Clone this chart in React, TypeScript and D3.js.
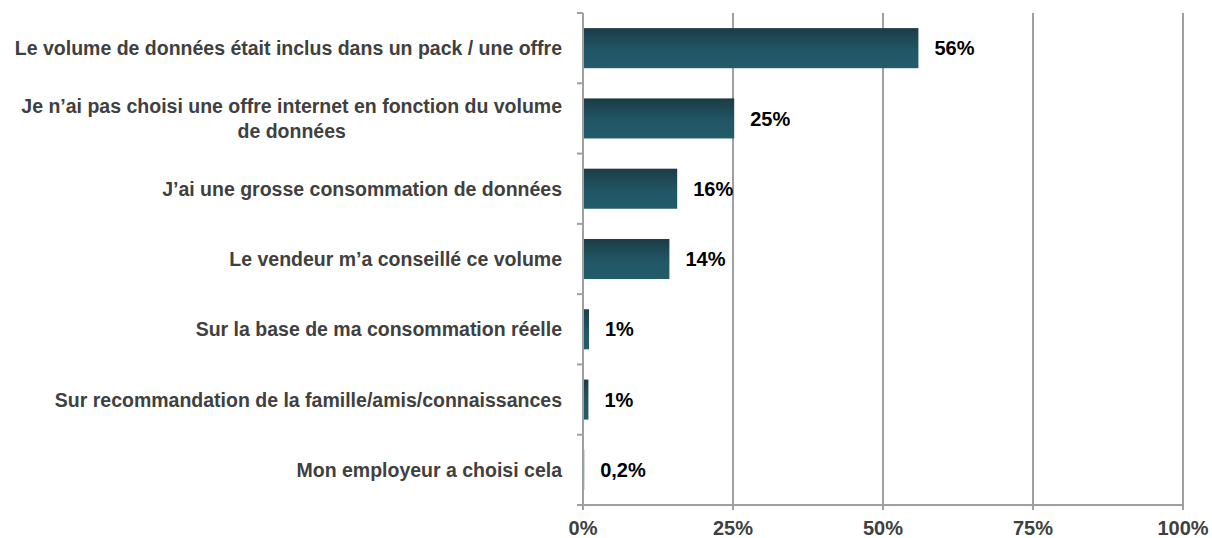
import React, { useEffect, useRef } from "react";
import * as d3 from "d3";

const categories: string[][] = [
  ["Le volume de données était inclus dans un pack / une offre"],
  ["Je n’ai pas choisi une offre internet en fonction du volume", "de données"],
  ["J’ai une grosse consommation de données"],
  ["Le vendeur m’a conseillé ce volume"],
  ["Sur la base de ma consommation réelle"],
  ["Sur recommandation de la famille/amis/connaissances"],
  ["Mon employeur a choisi cela"],
];
const values: number[] = [55.9, 25.2, 15.7, 14.4, 1.0, 0.9, 0.2];
const valueLabels: string[] = ["56%", "25%", "16%", "14%", "1%", "1%", "0,2%"];
const ticks: number[] = [0, 25, 50, 75, 100];
const tickLabels: string[] = ["0%", "25%", "50%", "75%", "100%"];

const W = 1212;
const H = 538;

export default function App() {
  const ref = useRef<SVGSVGElement>(null);
  useEffect(() => {
    const svg = d3.select(ref.current);
    svg.selectAll("*").remove();
    const left = 583, right = 1183, top = 13, bottom = 505;
    const x = d3.scaleLinear().domain([0, 100]).range([left, right]);
    const y = d3.scaleBand<number>().domain(d3.range(categories.length)).range([top, bottom]).paddingInner(0.43).paddingOuter(0.215);
    const step = (bottom - top) / categories.length;
    const font = "'Liberation Sans', Arial, sans-serif";

    const defs = svg.append("defs");
    const grad = defs.append("linearGradient").attr("id", "barGrad").attr("x1", 0).attr("y1", 0).attr("x2", 0).attr("y2", 1);
    grad.append("stop").attr("offset", "0%").attr("stop-color", "#1b3c46");
    grad.append("stop").attr("offset", "55%").attr("stop-color", "#215665");
    grad.append("stop").attr("offset", "100%").attr("stop-color", "#235c6b");

    const axisColor = "#a0a0a0";
    // gridlines
    svg.append("g").selectAll("line").data(ticks.slice(1)).join("line")
      .attr("x1", (d) => x(d)).attr("x2", (d) => x(d))
      .attr("y1", top).attr("y2", bottom + 5)
      .attr("stroke", axisColor).attr("stroke-width", 2);
    // bottom axis
    svg.append("line").attr("x1", left).attr("x2", right).attr("y1", bottom).attr("y2", bottom)
      .attr("stroke", axisColor).attr("stroke-width", 2);
    svg.append("g").selectAll("line").data(ticks).join("line")
      .attr("x1", (d) => x(d)).attr("x2", (d) => x(d)).attr("y1", bottom).attr("y2", bottom + 5)
      .attr("stroke", axisColor).attr("stroke-width", 2);
    // left ticks
    svg.append("g").selectAll("line").data(d3.range(categories.length + 1)).join("line")
      .attr("x1", left - 6).attr("x2", left).attr("y1", (d) => top + d * step).attr("y2", (d) => top + d * step)
      .attr("stroke", axisColor).attr("stroke-width", 2);

    // bars
    svg.append("g").selectAll("rect").data(values).join("rect")
      .attr("x", left).attr("y", (_, i) => y(i)!)
      .attr("width", (d) => Math.max(1, x(d) - left)).attr("height", y.bandwidth())
      .attr("fill", "url(#barGrad)");

    // left axis line
    svg.append("line").attr("x1", left).attr("x2", left).attr("y1", top).attr("y2", bottom)
      .attr("stroke", axisColor).attr("stroke-width", 2);

    // value labels
    svg.append("g").selectAll("text").data(values).join("text")
      .attr("x", (d) => x(d) + 16).attr("y", (_, i) => y(i)! + y.bandwidth() / 2)
      .attr("dy", "0.36em")
      .attr("font-family", font).attr("font-weight", "bold").attr("font-size", 20)
      .attr("fill", "#000").text((_, i) => valueLabels[i]);

    // tick labels
    svg.append("g").selectAll("text").data(ticks).join("text")
      .attr("x", (d) => x(d)).attr("y", 535)
      .attr("text-anchor", "middle")
      .attr("font-family", font).attr("font-weight", "bold").attr("font-size", 20)
      .attr("fill", "#404040").text((_, i) => tickLabels[i]);

    // category labels
    const labelRight = 562;
    const lineH = 25;
    categories.forEach((lines, i) => {
      const cy = top + (i + 0.5) * step;
      const g = svg.append("g");
      const texts = lines.map((l, j) =>
        g.append("text")
          .attr("y", cy + (j - (lines.length - 1) / 2) * lineH)
          .attr("dy", "0.36em")
          .attr("font-family", font).attr("font-weight", "bold").attr("font-size", 19.5)
          .attr("fill", "#404040").text(l)
      );
      const widths = texts.map((t) => (t.node() as SVGTextElement).getComputedTextLength());
      const maxW = Math.max(...widths);
      const cx = labelRight - maxW / 2;
      texts.forEach((t) => t.attr("x", cx).attr("text-anchor", "middle"));
    });
  }, []);
  return (
    <svg ref={ref} width={W} height={H} style={{ position: "absolute", left: 0, top: 0, background: "#fff" }} />
  );
}
